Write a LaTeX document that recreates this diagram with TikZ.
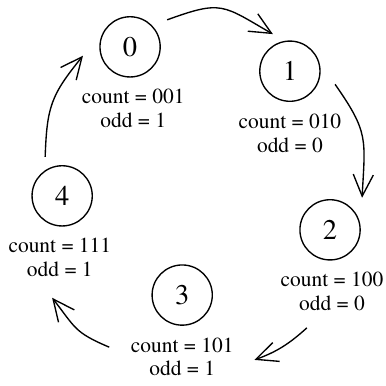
\documentclass[tikz,border=0pt]{standalone}
\usepackage{fontspec}
\setmainfont{texgyretermes-regular.otf}
\usetikzlibrary{arrows.meta,positioning}

\begin{document}
\begin{tikzpicture}[x=1cm,y=1cm,
    stnode/.style={draw,circle,line width=1pt,minimum size=1.56cm,inner sep=0pt,font=\fontsize{21}{21}\selectfont},
    lbl/.style={align=center,inner sep=0pt,font=\fontsize{15.8}{17.5}\selectfont},
    trans/.style={line width=1pt,-{Straight Barb[length=.56cm,width=.52cm]}}]
  \useasboundingbox (0,0) rectangle (10,9.974);

  \node[stnode] (s0) at (3.37,8.76) {0};
  \node[stnode] (s1) at (7.51,8.13) {1};
  \node[stnode] (s2) at (8.55,4.02) {2};
  \node[stnode] (s3) at (4.72,2.33) {3};
  \node[stnode] (s4) at (1.61,4.90) {4};

  \node[lbl,below=.3cm of s0,xshift=.08cm] (l0) {count = 001\\odd = 1};
  \node[lbl,below=.3cm of s1] (l1) {count = 010\\odd = 0};
  \node[lbl,below=.3cm of s2,xshift=.05cm] (l2) {count = 100\\odd = 0};
  \node[lbl,below=.3cm of s3] (l3) {count = 101\\odd = 1};
  \node[lbl,below=.3cm of s4,xshift=-.06cm] (l4) {count = 111\\odd = 1};

  % transitions, each one starting and ending a little away from its state
  \draw[trans] ([shift={(.96,.70)}]s0.center) to[out=20,in=150,looseness=1.4] ([shift={(-.44,.96)}]s1.center);
  \draw[trans] ([shift={(1.17,-.34)}]s1.center) to[out=-55,in=87,looseness=1.3] ([shift={(.83,.83)}]s2.center);
  \draw[trans] ([shift={(-.60,-2.54)}]s2.center) to[out=222,in=20] ([shift={(1.87,-1.68)}]s3.center);
  \draw[trans] ([shift={(-1.89,-1.35)}]s3.center) to[out=157,in=308,looseness=1.3] ([shift={(-.26,-2.64)}]s4.center);
  \draw[trans] ([shift={(-.44,1.01)}]s4.center) to[out=88,in=231,looseness=1.2] ([shift={(-1.22,-.23)}]s0.center);
\end{tikzpicture}
\end{document}
